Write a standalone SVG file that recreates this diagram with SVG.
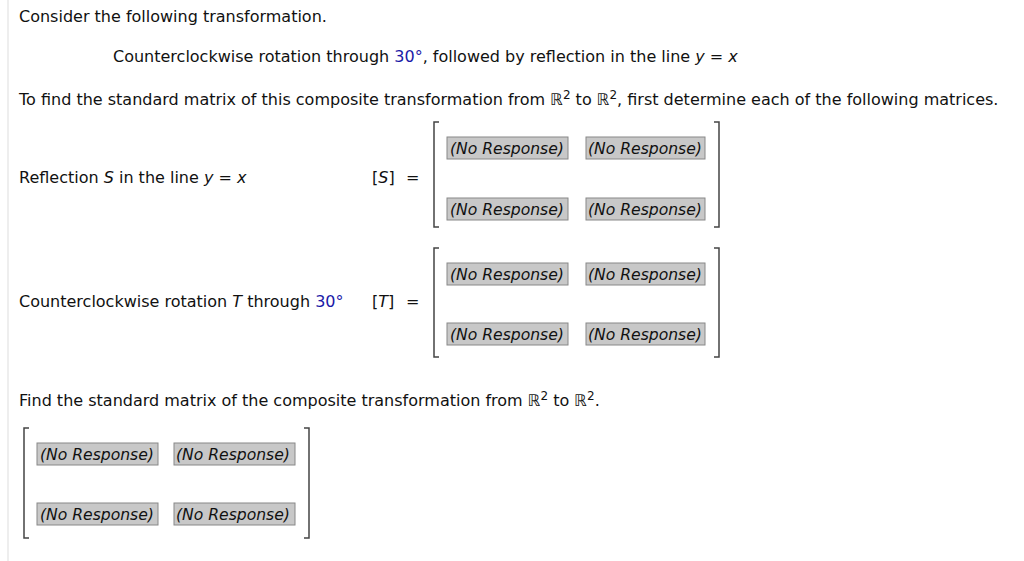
<svg xmlns="http://www.w3.org/2000/svg" width="1024" height="561" viewBox="0 0 1024 561">
<style>
text{font-family:"DejaVu Sans",Verdana,sans-serif;font-size:16px;fill:#111}
.b{fill:#1a1aa8}
.r rect{fill:#c8c8c8;stroke:#888;stroke-width:1}
.r text{font-style:italic;font-size:15.6px}
.br{fill:none;stroke:#444;stroke-width:1.5}
.i{font-style:italic}
</style>
<rect width="1024" height="561" fill="#fff"/>
<line x1="8" y1="0" x2="8" y2="561" stroke="#ddd" stroke-width="1"/>
<text x="19" y="22">Consider the following transformation.</text>
<text x="113" y="62">Counterclockwise rotation through <tspan class="b">30°</tspan>, followed by reflection in the line <tspan class="i">y</tspan> = <tspan class="i">x</tspan></text>
<text x="19" y="105">To find the standard matrix of this composite transformation from ℝ<tspan dy="-6" font-size="12">2</tspan><tspan dy="6"> to ℝ</tspan><tspan dy="-6" font-size="12">2</tspan><tspan dy="6">, first determine each of the following matrices.</tspan></text>
<text x="19" y="183">Reflection <tspan class="i">S</tspan> in the line <tspan class="i">y</tspan> = <tspan class="i">x</tspan></text>
<text x="372" y="183">[<tspan class="i">S</tspan>]</text><text x="406" y="183">=</text>
<text x="19" y="307">Counterclockwise rotation <tspan class="i">T</tspan> through <tspan class="b">30°</tspan></text>
<text x="372" y="307">[<tspan class="i">T</tspan>]</text><text x="406" y="307">=</text>
<text x="19" y="406">Find the standard matrix of the composite transformation from ℝ<tspan dy="-6" font-size="12">2</tspan><tspan dy="6"> to ℝ</tspan><tspan dy="-6" font-size="12">2</tspan><tspan dy="6">.</tspan></text>
<path class="br" d="M439,122 H434 V227 H439 M714,122 H719 V227 H714"/>
<path class="br" d="M439,248 H434 V357 H439 M714,248 H719 V357 H714"/>
<path class="br" d="M29,428 H24 V538 H29 M304,428 H309 V538 H304"/>
<g class="r">
<rect x="447" y="137" width="121" height="22"/><text x="450" y="154">(No Response)</text>
<rect x="586" y="137" width="119" height="22"/><text x="588" y="154">(No Response)</text>
<rect x="447" y="198" width="121" height="22"/><text x="450" y="215">(No Response)</text>
<rect x="586" y="198" width="119" height="22"/><text x="588" y="215">(No Response)</text>
<rect x="447" y="263" width="121" height="22"/><text x="450" y="280">(No Response)</text>
<rect x="586" y="263" width="119" height="22"/><text x="588" y="280">(No Response)</text>
<rect x="447" y="323" width="121" height="22"/><text x="450" y="340">(No Response)</text>
<rect x="586" y="323" width="119" height="22"/><text x="588" y="340">(No Response)</text>
<rect x="37" y="443" width="121" height="22"/><text x="40" y="460">(No Response)</text>
<rect x="174" y="443" width="121" height="22"/><text x="176" y="460">(No Response)</text>
<rect x="37" y="503" width="121" height="22"/><text x="40" y="520">(No Response)</text>
<rect x="174" y="503" width="121" height="22"/><text x="176" y="520">(No Response)</text>
</g>
</svg>
